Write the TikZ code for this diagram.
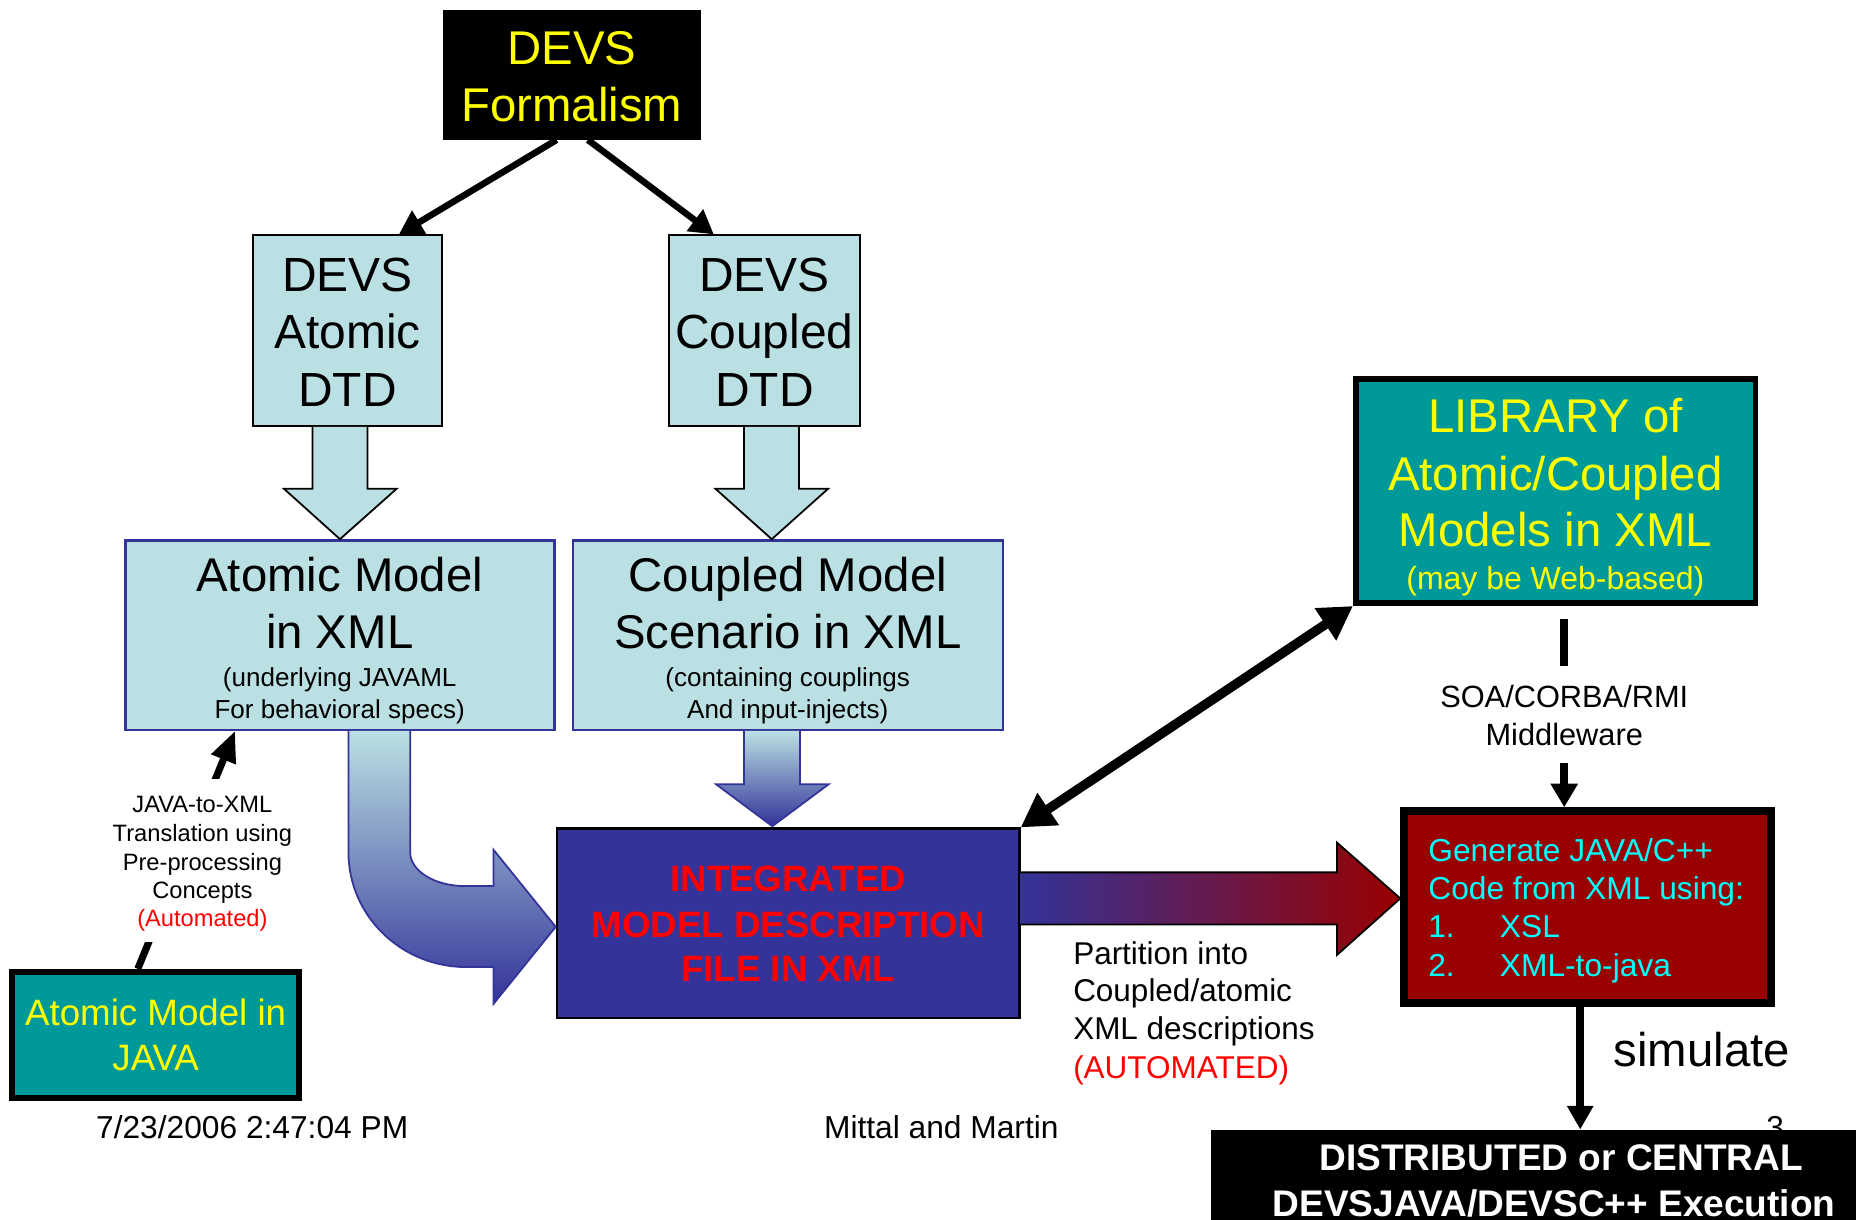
\documentclass[tikz,border=0pt]{standalone}
\usepackage{fontspec}
\setmainfont{Liberation Sans}
\usetikzlibrary{arrows.meta,calc}
\definecolor{lblue}{HTML}{BBE0E3}
\definecolor{dblue}{HTML}{333399}
\definecolor{tealbox}{HTML}{009999}
\definecolor{dred}{HTML}{990000}
\definecolor{ylw}{HTML}{FFFF00}
\definecolor{cyn}{HTML}{00FFFF}
\definecolor{rd}{HTML}{FF0000}
\newcommand\myfs[1]{\fontsize{#1}{#1}\selectfont}
\begin{document}
\begin{tikzpicture}[x=1pt,y=-1pt,
  lbl/.style={inner sep=0pt, anchor=base},
  lbll/.style={inner sep=0pt, anchor=base west},
  box/.style={rectangle, inner sep=0pt},
  lightbox/.style={box, fill=lblue, draw=black, line width=1.5pt},
  xmlbox/.style={box, fill=lblue, draw=dblue, line width=2pt},
  thickbox/.style={box, draw=black, line width=5pt},
  blockarrow/.style={fill=lblue, draw=black, line width=1.5pt},
  thinarrow/.style={line width=5.5pt, -{Triangle[length=20pt,width=22pt]}},
  whitebg/.style={box, fill=white, draw=none}
]
\useasboundingbox (0,0) rectangle (1568,1030);
\fill[white] (0,0) rectangle (1568,1030);

% ---------- boxes ----------
\node[box, fill=black, minimum width=217.3pt, minimum height=109.6pt] (formal) at (483.2,63.2) {};
\node[lightbox, minimum width=159.5pt, minimum height=161.1pt] (atdtd) at (293.5,279.3) {};
\node[lightbox, minimum width=161pt, minimum height=161.1pt] (cpdtd) at (645.75,279.3) {};
\node[xmlbox, minimum width=362.6pt, minimum height=160pt] (atxml) at (287.2,536.5) {};
\node[xmlbox, minimum width=363.3pt, minimum height=160pt] (cpxml) at (665.65,536.5) {};
\node[box, fill=dblue, draw=black, line width=2pt, minimum width=390.8pt, minimum height=160pt] (integ) at (665.9,780) {};
\node[thickbox, fill=tealbox, minimum width=337.6pt, minimum height=189pt] (lib) at (1314.3,415) {};
\node[thickbox, fill=dred, line width=6.5pt, minimum width=310.1pt, minimum height=162pt] (gen) at (1341.3,766.25) {};
\node[thickbox, fill=tealbox, minimum width=242pt, minimum height=106.5pt] (java) at (131.5,874.25) {};

% ---------- block arrows ----------
\filldraw[blockarrow] (264,360.6) -- (264,413) -- (240,413) -- (287.2,455.5) -- (335,413) -- (310.5,413) -- (310.5,360.6);
\filldraw[blockarrow] (628.5,360.6) -- (628.5,413) -- (604.5,413) -- (652,455.5) -- (699.5,413) -- (675,413) -- (675,360.6);
\shadedraw[top color=lblue, bottom color=dblue, draw=dblue, line width=1.5pt]
  (628.6,617.5) -- (628.6,662.6) -- (605,662.6) -- (652.5,698) -- (700,662.6) -- (675.8,662.6) -- (675.8,617.5);
\shadedraw[top color=lblue, bottom color=dblue, draw=dblue, line width=1.5pt]
  (294.4,617.5) -- (294.4,720) .. controls (294.4,773.5) and (338.8,817) .. (394,817)
  -- (417,817) -- (417,848) -- (469.5,783) -- (417,718) -- (417,748.6) -- (393,748.6)
  .. controls (367.3,748.6) and (346.5,735.8) .. (346.5,720) -- (346.5,617.5);
\shadedraw[left color=dblue, right color=dred, draw=black, line width=1.5pt]
  (integ.east |- 0,737) -- (1129.5,737) -- (1129.5,711.8) -- (gen.west |- 0,759) -- (1129.5,806.8) -- (1129.5,781) -- (integ.east |- 0,781);

% ---------- arrows ----------
\draw[thinarrow] ($(formal.south)+(-13,0)$) -- ($(atdtd.north west)!0.77!(atdtd.north east)$);
\draw[thinarrow] ($(formal.south)+(13.5,0)$) -- ($(cpdtd.north west)!0.237!(cpdtd.north east)$);
\draw[line width=8pt, {Triangle[length=28pt,width=31pt]}-{Triangle[length=28pt,width=31pt]}] (integ.north east) -- (lib.south west);

% JAVA-to-XML connector
\draw[line width=6pt, -{Triangle[length=26pt,width=21pt]}] ($(java.north west)!0.439!(java.north east)$) -- ($(atxml.south west)!0.257!(atxml.south east)$);
\node[whitebg, minimum width=162pt, minimum height=138pt] (jxbg) at (171,727) {};
\node[lbl, font=\myfs{20}] (jx1) at (171,686) {JAVA-to-XML};
\node[lbl, font=\myfs{20}] (jx2) at (171,711) {Translation using};
\node[lbl, font=\myfs{20}] (jx3) at (171,735) {Pre-processing};
\node[lbl, font=\myfs{20}] (jx4) at (171,759) {Concepts};
\node[lbl, font=\myfs{20}, text=rd] (jx5) at (171,783) {(Automated)};

% Middleware connector
\coordinate (mwx) at (1321.5,604);
\draw[line width=7pt, -{Triangle[length=20pt,width=22pt]}, shorten <=11pt] (mwx |- lib.south) -- (mwx |- gen.north);
\node[whitebg, minimum width=230pt, minimum height=82pt] (mwbg) at (mwx) {};
\node[lbl, font=\myfs{26}] (mw1) at (1321.5,598) {SOA/CORBA/RMI};
\node[lbl, font=\myfs{26}] (mw2) at (1321.5,630) {Middleware};

% ---------- texts ----------
\node[lbl, font=\myfs{40}, text=ylw] (formal1) at (483.2,54.3) {DEVS};
\node[lbl, font=\myfs{40}, text=ylw] (formal2) at (483.2,102.6) {Formalism};

\node[lbl, font=\myfs{40.5}] (atdtd1) at (293.5,246) {DEVS};
\node[lbl, font=\myfs{40.5}] (atdtd2) at (293.5,294.8) {Atomic};
\node[lbl, font=\myfs{40.5}] (atdtd3) at (293.5,343.3) {DTD};
\node[lbl, font=\myfs{40.5}] (cpdtd1) at (645.75,246) {DEVS};
\node[lbl, font=\myfs{40.5}] (cpdtd2) at (645.75,294.8) {Coupled};
\node[lbl, font=\myfs{40.5}] (cpdtd3) at (645.75,343.3) {DTD};

\node[lbl, font=\myfs{40}] (atxml1) at (287,500) {Atomic Model};
\node[lbl, font=\myfs{40}] (atxml2) at (287,548) {in XML};
\node[lbl, font=\myfs{22}] (atxml3) at (287,580) {(underlying JAVAML};
\node[lbl, font=\myfs{22}] (atxml4) at (287,607) {For behavioral specs)};
\node[lbl, font=\myfs{40}] (cpxml1) at (665.5,500) {Coupled Model};
\node[lbl, font=\myfs{40}] (cpxml2) at (665.5,548) {Scenario in XML};
\node[lbl, font=\myfs{22}] (cpxml3) at (665.5,580) {(containing couplings};
\node[lbl, font=\myfs{22}] (cpxml4) at (665.5,607) {And input-injects)};

\node[lbl, font=\myfs{31}\bfseries, text=rd] (integ1) at (665.9,753) {INTEGRATED};
\node[lbl, font=\myfs{31}\bfseries, text=rd] (integ2) at (665.9,791.6) {MODEL DESCRIPTION};
\node[lbl, font=\myfs{31}\bfseries, text=rd] (integ3) at (665.9,829.5) {FILE IN XML};

\node[lbll, font=\myfs{26.6}] (part1) at (906.5,814.5) {Partition into};
\node[lbll, font=\myfs{26.6}] (part2) at (906.5,846) {Coupled/atomic};
\node[lbll, font=\myfs{26.6}] (part3) at (906.5,878.6) {XML descriptions};
\node[lbll, font=\myfs{26.6}, text=rd] (part4) at (906.5,911.5) {(AUTOMATED)};

\node[lbl, font=\myfs{40}, text=ylw] (lib1) at (1314,365) {LIBRARY of};
\node[lbl, font=\myfs{40}, text=ylw] (lib2) at (1314,414) {Atomic/Coupled};
\node[lbl, font=\myfs{40}, text=ylw] (lib3) at (1314,462) {Models in XML};
\node[lbl, font=\myfs{27}, text=ylw] (lib4) at (1314,498) {(may be Web-based)};

\node[lbll, font=\myfs{26.8}, text=cyn] (gen1) at (1206.5,728) {Generate JAVA/C++};
\node[lbll, font=\myfs{26.8}, text=cyn] (gen2) at (1206.5,760) {Code from XML using:};
\node[lbll, font=\myfs{26.8}, text=cyn] (gen3) at (1206.5,792) {\makebox[60.5pt][l]{1.}XSL};
\node[lbll, font=\myfs{26.8}, text=cyn] (gen4) at (1206.5,825) {\makebox[60.5pt][l]{2.}XML-to-java};

\node[lbl, font=\myfs{31}, text=ylw] (java1) at (131.5,866) {Atomic Model in};
\node[lbl, font=\myfs{31}, text=ylw] (java2) at (131.5,904) {JAVA};

\node[lbll, font=\myfs{26.8}] (date) at (81,962) {7/23/2006 2:47:04 PM};
\node[lbll, font=\myfs{26.8}] (authors) at (696,962) {Mittal and Martin};
\node[lbll, font=\myfs{26.8}] (pagenum) at (1492,962) {3};

% ---------- execution box ----------
\node[box, fill=black, minimum width=594pt, minimum height=91pt] (dist) at (1320,1000) {};
\node[lbl, font=\myfs{31.3}\bfseries, text=white] (dist1) at (1319,988.5) {DISTRIBUTED or CENTRAL};
\node[lbl, font=\myfs{31.3}\bfseries, text=white] (dist2) at (1313,1028) {DEVSJAVA/DEVSC++ Execution};

\coordinate (simx) at (1335,900);
\draw[line width=6.5pt, -{Triangle[length=20pt,width=21pt]}] (simx |- gen.south) -- (simx |- dist.north);
\node[lbll, font=\myfs{40}] (sim) at (1363,901) {simulate};
\end{tikzpicture}
\end{document}
